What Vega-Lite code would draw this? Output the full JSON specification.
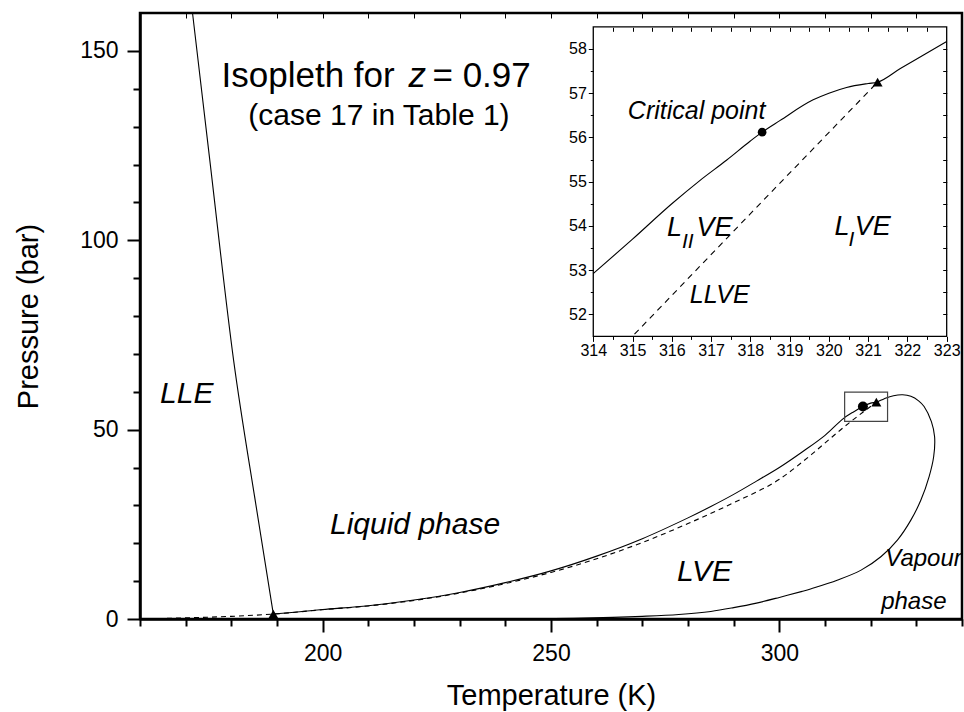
{
  "$schema": "https://vega.github.io/schema/vega-lite/v6.json",
  "width": 822,
  "height": 606,
  "autosize": {"type": "none"},
  "padding": {"left": 140, "top": 13, "right": 2, "bottom": 93},
  "background": "white",
  "config": {
    "font": "Liberation Sans",
    "view": {"stroke": "black", "strokeWidth": 2.5},
    "axis": {"grid": false, "labelColor": "black", "titleColor": "black", "tickColor": "black", "domainColor": "black", "titleFontWeight": "normal", "labelFont": "Liberation Sans", "titleFont": "Liberation Sans"}
  },
  "datasets": {
    "bubble": [
      {"i": 1, "T": 189.2, "P": 1.3}, {"i": 2, "T": 195, "P": 1.9}, {"i": 3, "T": 200, "P": 2.5},
      {"i": 4, "T": 210, "P": 3.5}, {"i": 5, "T": 220, "P": 5.0}, {"i": 6, "T": 230, "P": 7.0},
      {"i": 7, "T": 240, "P": 9.6}, {"i": 8, "T": 250, "P": 12.7}, {"i": 9, "T": 260, "P": 16.6},
      {"i": 10, "T": 270, "P": 21.2}, {"i": 11, "T": 280, "P": 26.7}, {"i": 12, "T": 285, "P": 29.7},
      {"i": 13, "T": 290, "P": 32.9}, {"i": 14, "T": 295, "P": 36.4}, {"i": 15, "T": 300, "P": 40.0},
      {"i": 16, "T": 305, "P": 44.1}, {"i": 17, "T": 310, "P": 48.5}, {"i": 18, "T": 314, "P": 52.92},
      {"i": 19, "T": 316, "P": 54.5}, {"i": 20, "T": 318.3, "P": 56.12}, {"i": 21, "T": 320, "P": 57.0},
      {"i": 22, "T": 321.24, "P": 57.25}, {"i": 23, "T": 323, "P": 58.17}, {"i": 24, "T": 325, "P": 58.95},
      {"i": 25, "T": 327, "P": 59.2}, {"i": 26, "T": 328.8, "P": 58.8}, {"i": 27, "T": 330.5, "P": 57.6},
      {"i": 28, "T": 331.7, "P": 56.1}, {"i": 29, "T": 333.3, "P": 52.1}, {"i": 30, "T": 334, "P": 48.1},
      {"i": 31, "T": 333.8, "P": 42.9}, {"i": 32, "T": 332.8, "P": 37.6}, {"i": 33, "T": 331, "P": 31.4},
      {"i": 34, "T": 328.8, "P": 26.1}, {"i": 35, "T": 325.9, "P": 20.9}, {"i": 36, "T": 322.3, "P": 16.5},
      {"i": 37, "T": 317.9, "P": 12.9}, {"i": 38, "T": 312.8, "P": 10.3}, {"i": 39, "T": 307, "P": 8.0},
      {"i": 40, "T": 305, "P": 7.3}, {"i": 41, "T": 300, "P": 5.7}, {"i": 42, "T": 295, "P": 4.2},
      {"i": 43, "T": 290, "P": 3.0}, {"i": 44, "T": 285, "P": 2.0}, {"i": 45, "T": 278, "P": 1.2},
      {"i": 46, "T": 270, "P": 0.7}, {"i": 47, "T": 263.5, "P": 0.42}, {"i": 48, "T": 255, "P": 0.18},
      {"i": 49, "T": 245, "P": 0.05}
    ],
    "lle": [
      {"T": 189.2, "P": 1.3}, {"T": 185.4, "P": 30}, {"T": 180.5, "P": 68.3}, {"T": 175.2, "P": 122}, {"T": 171.5, "P": 160}
    ],
    "llve": [
      {"T": 160, "P": 0.0}, {"T": 170, "P": 0.3}, {"T": 180, "P": 0.7}, {"T": 189.2, "P": 1.3},
      {"T": 200, "P": 2.45}, {"T": 210, "P": 3.45}, {"T": 220, "P": 4.9}, {"T": 230, "P": 6.85},
      {"T": 240, "P": 9.35}, {"T": 250, "P": 12.3}, {"T": 260, "P": 15.9}, {"T": 270, "P": 20.2},
      {"T": 280, "P": 25.2}, {"T": 290, "P": 30.7}, {"T": 300, "P": 36.9}, {"T": 307, "P": 43.4},
      {"T": 311, "P": 47.5}, {"T": 315.1, "P": 51.6}, {"T": 318.3, "P": 54.6}, {"T": 321.24, "P": 57.25}
    ],
    "tri": [{"T": 189.2, "P": 1.3}, {"T": 321.24, "P": 57.25}],
    "crit": [{"T": 318.3, "P": 56.12}],
    "box": [{"T": 314.3, "T2": 323.7, "P": 52.2, "P2": 59.9}],
    "t_title": [{"T": 177.85, "P": 140.4, "label": "Isopleth for"}, {"T": 224.05, "P": 140.4, "label": "= 0.97"}],
    "t_z": [{"T": 218.8, "P": 140.4, "label": "z"}],
    "t_sub": [{"T": 212.33, "P": 130.45, "label": "(case 17 in Table 1)"}],
    "t_region": [
      {"T": 164.4, "P": 56.9, "label": "LLE"},
      {"T": 201.6, "P": 22.5, "label": "Liquid phase"},
      {"T": 277.6, "P": 10.0, "label": "LVE"}
    ],
    "t_vap": [{"T": 323.2, "P": 14.1, "label": "Vapour"}, {"T": 322.3, "P": 2.7, "label": "phase"}],
    "isolid": [
      {"T": 314, "P": 52.92}, {"T": 315, "P": 53.7}, {"T": 316, "P": 54.5}, {"T": 316.72, "P": 55.03},
      {"T": 317.4, "P": 55.49}, {"T": 318, "P": 55.92}, {"T": 318.3, "P": 56.12}, {"T": 318.75, "P": 56.38},
      {"T": 319.6, "P": 56.85}, {"T": 320, "P": 57.0}, {"T": 320.45, "P": 57.13}, {"T": 321, "P": 57.22},
      {"T": 321.24, "P": 57.25}, {"T": 321.82, "P": 57.56}, {"T": 322.4, "P": 57.86}, {"T": 323, "P": 58.17}
    ],
    "idash": [{"T": 315.05, "P": 51.55}, {"T": 318.3, "P": 54.55}, {"T": 321.24, "P": 57.25}],
    "itri": [{"T": 321.24, "P": 57.25}],
    "icrit": [{"T": 318.3, "P": 56.12}],
    "iframe": [{"T": 314, "T2": 323, "P": 51.5, "P2": 58.5}],
    "i_mid": [{"T": 314.88, "P": 56.41, "label": "Critical point"}, {"T": 316.46, "P": 52.26, "label": "LLVE"}],
    "i_big": [
      {"T": 315.88, "P": 53.76, "label": "L"}, {"T": 316.63, "P": 53.76, "label": "VE"},
      {"T": 320.14, "P": 53.79, "label": "L"}, {"T": 320.66, "P": 53.79, "label": "VE"}
    ],
    "i_small": [{"T": 316.26, "P": 53.49, "label": "II"}, {"T": 320.5, "P": 53.55, "label": "I"}]
  },
  "resolve": {"scale": {"x": "independent", "y": "independent"}},
  "layer": [
    {
      "resolve": {"axis": {"x": "independent", "y": "independent"}},
      "layer": [
        {
          "data": {"name": "bubble"},
          "mark": {"type": "line", "color": "black", "strokeWidth": 1.1, "interpolate": "catmull-rom"},
          "encoding": {
            "x": {
              "field": "T", "type": "quantitative",
              "scale": {"domain": [160, 340], "nice": false, "zero": false},
              "axis": {
                "orient": "bottom",
                "values": [200, 250, 300],
                "tickSize": 13, "tickWidth": 2, "domainWidth": 2.5,
                "labelFontSize": 23, "labelPadding": 10, "labelFlush": false, "labelOverlap": false,
                "title": "Temperature (K)", "titleFontSize": 29, "titlePadding": 16
              }
            },
            "y": {
              "field": "P", "type": "quantitative",
              "scale": {"domain": [0, 160], "nice": false, "zero": false},
              "axis": {
                "orient": "left",
                "values": [0, 50, 100, 150],
                "tickSize": 13, "tickWidth": 2, "domainWidth": 2.5,
                "labelFontSize": 23, "labelPadding": 9, "labelOverlap": false,
                "title": "Pressure (bar)", "titleFontSize": 29, "titlePadding": 36
              }
            },
            "order": {"field": "i", "type": "quantitative"}
          }
        },
        {
          "data": {"name": "lle"},
          "mark": {"type": "line", "color": "black", "strokeWidth": 1.1, "interpolate": "monotone"},
          "encoding": {
            "x": {
              "field": "T", "type": "quantitative",
              "axis": {
                "orient": "bottom",
                "values": [160, 170, 180, 190, 210, 220, 230, 240, 260, 270, 280, 290, 310, 320, 330, 340],
                "tickSize": 7, "tickWidth": 2, "domain": false, "labels": false, "title": null
              }
            },
            "y": {
              "field": "P", "type": "quantitative",
              "axis": {
                "orient": "left",
                "values": [10, 20, 30, 40, 60, 70, 80, 90, 110, 120, 130, 140],
                "tickSize": 7, "tickWidth": 2, "domain": false, "labels": false, "title": null
              }
            }
          }
        },
        {
          "data": {"name": "llve"},
          "mark": {"type": "line", "color": "black", "strokeWidth": 1.1, "strokeDash": [5, 4], "interpolate": "monotone"},
          "encoding": {
            "x": {
              "field": "T", "type": "quantitative",
              "axis": {
                "orient": "top", "offset": -5,
                "values": [170, 180, 190, 200, 210, 220, 230, 240, 250, 260, 270, 280, 290, 300, 310, 320, 330],
                "tickSize": 5, "tickWidth": 1, "domain": false, "labels": false, "title": null
              }
            },
            "y": {"field": "P", "type": "quantitative", "axis": null}
          }
        },
        {
          "data": {"name": "box"},
          "mark": {"type": "rect", "fill": null, "fillOpacity": 0, "stroke": "#444444", "strokeWidth": 1.2},
          "encoding": {
            "x": {"field": "T", "type": "quantitative", "axis": null},
            "x2": {"field": "T2"},
            "y": {"field": "P", "type": "quantitative", "axis": null},
            "y2": {"field": "P2"}
          }
        },
        {
          "data": {"name": "tri"},
          "mark": {"type": "point", "shape": "triangle-up", "filled": true, "color": "black", "size": 100, "opacity": 1},
          "encoding": {
            "x": {"field": "T", "type": "quantitative", "axis": null},
            "y": {"field": "P", "type": "quantitative", "axis": null}
          }
        },
        {
          "data": {"name": "crit"},
          "mark": {"type": "point", "shape": "circle", "filled": true, "color": "black", "size": 100, "opacity": 1},
          "encoding": {
            "x": {"field": "T", "type": "quantitative", "axis": null},
            "y": {"field": "P", "type": "quantitative", "axis": null}
          }
        },
        {
          "data": {"name": "t_title"},
          "mark": {"type": "text", "align": "left", "baseline": "alphabetic", "fontSize": 35, "color": "black"},
          "encoding": {
            "x": {"field": "T", "type": "quantitative", "axis": null},
            "y": {"field": "P", "type": "quantitative", "axis": null},
            "text": {"field": "label"}
          }
        },
        {
          "data": {"name": "t_z"},
          "mark": {"type": "text", "align": "left", "baseline": "alphabetic", "fontSize": 35, "fontStyle": "italic", "color": "black"},
          "encoding": {
            "x": {"field": "T", "type": "quantitative", "axis": null},
            "y": {"field": "P", "type": "quantitative", "axis": null},
            "text": {"field": "label"}
          }
        },
        {
          "data": {"name": "t_sub"},
          "mark": {"type": "text", "align": "center", "baseline": "alphabetic", "fontSize": 30, "color": "black"},
          "encoding": {
            "x": {"field": "T", "type": "quantitative", "axis": null},
            "y": {"field": "P", "type": "quantitative", "axis": null},
            "text": {"field": "label"}
          }
        },
        {
          "data": {"name": "t_region"},
          "mark": {"type": "text", "align": "left", "baseline": "alphabetic", "fontSize": 30, "fontStyle": "italic", "color": "black"},
          "encoding": {
            "x": {"field": "T", "type": "quantitative", "axis": null},
            "y": {"field": "P", "type": "quantitative", "axis": null},
            "text": {"field": "label"}
          }
        },
        {
          "data": {"name": "t_vap"},
          "mark": {"type": "text", "align": "left", "baseline": "alphabetic", "fontSize": 24, "fontStyle": "italic", "color": "black"},
          "encoding": {
            "x": {"field": "T", "type": "quantitative", "axis": null},
            "y": {"field": "P", "type": "quantitative", "axis": null},
            "text": {"field": "label"}
          }
        }
      ]
    },
    {
      "resolve": {"axis": {"x": "independent", "y": "independent"}},
      "layer": [
        {
          "data": {"name": "iframe"},
          "mark": {"type": "rect", "fill": "white", "stroke": "black", "strokeWidth": 1.3},
          "encoding": {
            "x": {
              "field": "T", "type": "quantitative",
              "scale": {"domain": [302.457, 323.39], "nice": false, "zero": false},
              "axis": {
                "orient": "bottom", "offset": -282.6, "zindex": 1, "domain": false,
                "values": [314, 315, 316, 317, 318, 319, 320, 321, 322, 323],
                "tickSize": 5, "tickWidth": 1, "labelFontSize": 16, "labelPadding": 1, "labelFlush": false, "labelOverlap": false,
                "title": null
              }
            },
            "x2": {"field": "T2"},
            "y": {
              "field": "P", "type": "quantitative",
              "scale": {"domain": [45.11, 58.814], "nice": false, "zero": false},
              "axis": {
                "orient": "left", "offset": -453.3, "zindex": 1, "domain": false,
                "values": [52, 53, 54, 55, 56, 57, 58],
                "tickSize": 5, "tickWidth": 1, "labelFontSize": 16, "labelPadding": 2, "labelOverlap": false,
                "title": null
              }
            },
            "y2": {"field": "P2"}
          }
        },
        {
          "data": {"name": "isolid"},
          "mark": {"type": "line", "color": "black", "strokeWidth": 1.1, "interpolate": "monotone"},
          "encoding": {
            "x": {
              "field": "T", "type": "quantitative",
              "axis": {
                "orient": "bottom", "offset": -282.6, "zindex": 1, "domain": false, "labels": false, "title": null,
                "values": [314.5, 315.5, 316.5, 317.5, 318.5, 319.5, 320.5, 321.5, 322.5],
                "tickSize": 3, "tickWidth": 1
              }
            },
            "y": {
              "field": "P", "type": "quantitative",
              "axis": {
                "orient": "left", "offset": -453.3, "zindex": 1, "domain": false, "labels": false, "title": null,
                "values": [52.5, 53.5, 54.5, 55.5, 56.5, 57.5],
                "tickSize": 3, "tickWidth": 1
              }
            }
          }
        },
        {
          "data": {"name": "idash"},
          "mark": {"type": "line", "color": "black", "strokeWidth": 1.1, "strokeDash": [6, 5]},
          "encoding": {
            "x": {
              "field": "T", "type": "quantitative",
              "axis": {
                "orient": "top", "offset": -18.3, "zindex": 1, "domain": false, "labels": false, "title": null,
                "values": [314.5, 315, 315.5, 316, 316.5, 317, 317.5, 318, 318.5, 319, 319.5, 320, 320.5, 321, 321.5, 322, 322.5],
                "tickSize": 4, "tickWidth": 1
              }
            },
            "y": {
              "field": "P", "type": "quantitative",
              "axis": {
                "orient": "right", "offset": -19.3, "zindex": 1, "domain": false, "labels": false, "title": null,
                "values": [52, 52.5, 53, 53.5, 54, 54.5, 55, 55.5, 56, 56.5, 57, 57.5, 58],
                "tickSize": 4, "tickWidth": 1
              }
            }
          }
        },
        {
          "data": {"name": "itri"},
          "mark": {"type": "point", "shape": "triangle-up", "filled": true, "color": "black", "size": 100, "opacity": 1},
          "encoding": {
            "x": {"field": "T", "type": "quantitative", "axis": null},
            "y": {"field": "P", "type": "quantitative", "axis": null}
          }
        },
        {
          "data": {"name": "icrit"},
          "mark": {"type": "point", "shape": "circle", "filled": true, "color": "black", "size": 75, "opacity": 1},
          "encoding": {
            "x": {"field": "T", "type": "quantitative", "axis": null},
            "y": {"field": "P", "type": "quantitative", "axis": null}
          }
        },
        {
          "data": {"name": "i_mid"},
          "mark": {"type": "text", "align": "left", "baseline": "alphabetic", "fontSize": 25, "fontStyle": "italic", "color": "black"},
          "encoding": {
            "x": {"field": "T", "type": "quantitative", "axis": null},
            "y": {"field": "P", "type": "quantitative", "axis": null},
            "text": {"field": "label"}
          }
        },
        {
          "data": {"name": "i_big"},
          "mark": {"type": "text", "align": "left", "baseline": "alphabetic", "fontSize": 27, "fontStyle": "italic", "color": "black"},
          "encoding": {
            "x": {"field": "T", "type": "quantitative", "axis": null},
            "y": {"field": "P", "type": "quantitative", "axis": null},
            "text": {"field": "label"}
          }
        },
        {
          "data": {"name": "i_small"},
          "mark": {"type": "text", "align": "left", "baseline": "alphabetic", "fontSize": 21, "fontStyle": "italic", "color": "black"},
          "encoding": {
            "x": {"field": "T", "type": "quantitative", "axis": null},
            "y": {"field": "P", "type": "quantitative", "axis": null},
            "text": {"field": "label"}
          }
        }
      ]
    }
  ]
}
